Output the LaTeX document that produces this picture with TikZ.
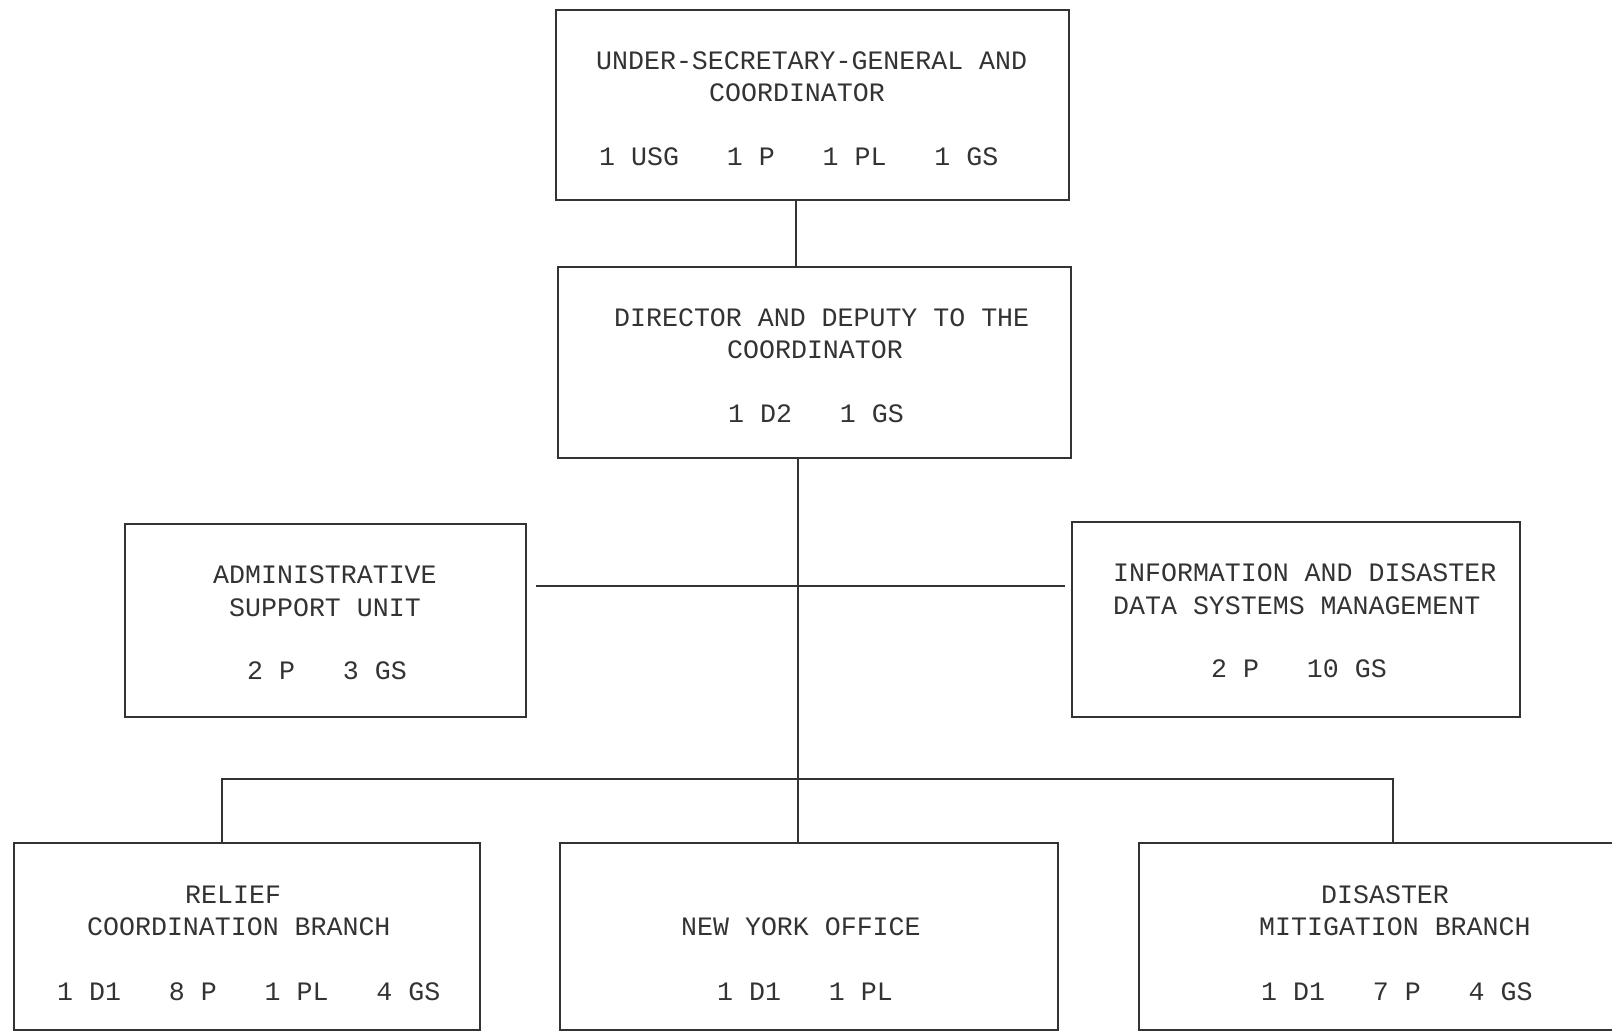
\documentclass[tikz,border=0pt]{standalone}
\usepackage{fontspec}
\setmonofont{Liberation Mono}
\definecolor{ink}{HTML}{333333}
\begin{document}
\begin{tikzpicture}[x=1pt,y=-1pt,
  box/.style={draw=ink,line width=1.8pt,inner sep=0pt},
  lbl/.style={anchor=base west,inner sep=0pt,text=ink,font=\ttfamily\fontsize{26.6}{32}\selectfont},
  conn/.style={draw=ink,line width=1.8pt}]
\clip (0,0) rectangle (1612,1033);
\fill[white] (0,0) rectangle (1612,1033);
% boxes
\node[box,minimum width=513pt,minimum height=190pt] (usg) at (812.5,105) {};
\node[box,minimum width=513pt,minimum height=191pt] (dir) at (814.5,362.5) {};
\node[box,minimum width=401pt,minimum height=193pt] (adm) at (325.5,620.5) {};
\node[box,minimum width=448pt,minimum height=195pt] (inf) at (1296,619.5) {};
\node[box,minimum width=466pt,minimum height=187pt] (rel) at (247,936.5) {};
\node[box,minimum width=498pt,minimum height=187pt] (nyo) at (809,936.5) {};
\node[box,minimum width=520pt,minimum height=187pt] (dmb) at (1399,936.5) {};
% texts
\node[lbl] (usg1) at (596,70) {UNDER-SECRETARY-GENERAL AND};
\node[lbl] (usg2) at (709,102) {COORDINATOR};
\node[lbl] (usg3) at (599,165) {1~USG~~~1~P~~~1~PL~~~1~GS};
\node[lbl] (dir1) at (614,326) {DIRECTOR AND DEPUTY TO THE};
\node[lbl] (dir2) at (727,358) {COORDINATOR};
\node[lbl] (dir3) at (728,422) {1~D2~~~1~GS};
\node[lbl] (adm1) at (213,583) {ADMINISTRATIVE};
\node[lbl] (adm2) at (229,616) {SUPPORT UNIT};
\node[lbl] (adm3) at (247,679) {2~P~~~3~GS};
\node[lbl] (inf1) at (1113,581) {INFORMATION AND DISASTER};
\node[lbl] (inf2) at (1113,614) {DATA SYSTEMS MANAGEMENT};
\node[lbl] (inf3) at (1211,677) {2~P~~~10~GS};
\node[lbl] (rel1) at (185,903) {RELIEF};
\node[lbl] (rel2) at (87,935) {COORDINATION BRANCH};
\node[lbl] (rel3) at (57,1000) {1~D1~~~8~P~~~1~PL~~~4~GS};
\node[lbl] (nyo1) at (681,935) {NEW YORK OFFICE};
\node[lbl] (nyo2) at (717,1000) {1~D1~~~1~PL};
\node[lbl] (dmb1) at (1321,903) {DISASTER};
\node[lbl] (dmb2) at (1259,935) {MITIGATION BRANCH};
\node[lbl] (dmb3) at (1261,1000) {1~D1~~~7~P~~~4~GS};
% connector helpers
\coordinate (xa) at (796,0);
\coordinate (xb) at (798,0);
\coordinate (ya) at (0,586);
\coordinate (yb) at (0,779);
\coordinate (xl) at (222,0);
\coordinate (xr) at (1393,0);
% connectors
\draw[conn] (usg.south -| xa) -- (dir.north -| xa);
\draw[conn] (dir.south -| xb) -- (nyo.north -| xb);
\draw[conn,shorten <=9pt,shorten >=6pt] (adm.east |- ya) -- (inf.west |- ya);
\draw[conn] (rel.north -| xl) -- (xl |- yb) -- (xr |- yb) -- (dmb.north -| xr);
\end{tikzpicture}
\end{document}
